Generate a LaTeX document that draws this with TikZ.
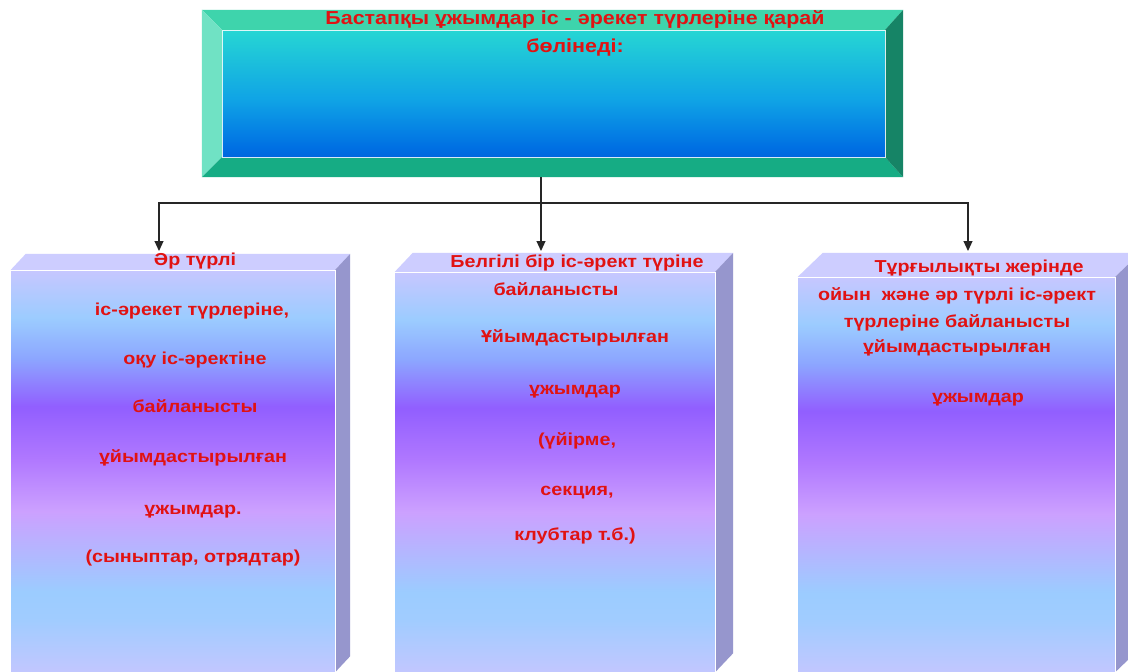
\documentclass[tikz,border=0pt]{standalone}
\usepackage{fontspec}
\newfontfamily\kzfont[FakeStretch=1.14]{Liberation Sans}
\usetikzlibrary{calc,arrows.meta}
\definecolor{textred}{RGB}{225,18,18}
\definecolor{bevtop}{RGB}{62,212,172}
\definecolor{bevleft}{RGB}{112,226,196}
\definecolor{bevbot}{RGB}{22,172,132}
\definecolor{bevright}{RGB}{22,132,102}
\definecolor{boxtop}{RGB}{205,205,255}
\definecolor{boxside}{RGB}{150,150,205}
% the shaded path is fitted to the 25bp--75bp band of the shading
\pgfdeclareverticalshading{innerface}{100bp}{rgb(0bp)=(0,0.40,0.87); rgb(25bp)=(0,0.40,0.87); rgb(29bp)=(0,0.44,0.89); rgb(47.5bp)=(0.06,0.64,0.90); rgb(75bp)=(0.15,0.84,0.83); rgb(100bp)=(0.15,0.84,0.83)}
\pgfdeclareverticalshading{boxfront}{100bp}{rgb(0bp)=(0.76,0.78,1); rgb(25bp)=(0.76,0.78,1); rgb(31.5bp)=(0.63,0.80,1); rgb(35bp)=(0.61,0.80,1); rgb(45bp)=(0.80,0.63,1); rgb(51.5bp)=(0.69,0.47,1); rgb(58bp)=(0.57,0.37,1); rgb(64bp)=(0.55,0.65,1); rgb(69bp)=(0.61,0.80,1); rgb(75bp)=(0.78,0.78,1); rgb(100bp)=(0.78,0.78,1)}
\tikzset{
  frontbox/.style={shading=boxfront, draw=none, inner sep=0pt},
  topfacebox/.style={fill=boxtop},
  sidefacebox/.style={fill=boxside},
  txt/.style={text=textred, font=\kzfont\bfseries\fontsize{17.3}{20}\selectfont, inner sep=0pt, anchor=mid},
  toptxt/.style={text=textred, font=\kzfont\bfseries\fontsize{18.8}{22}\selectfont, inner sep=0pt, anchor=mid},
  conn/.style={draw=black!85, line width=1.1pt},
  arr/.style={conn, -{Triangle[length=10pt,width=9pt]}}
}
\begin{document}
\begin{tikzpicture}[x=1pt,y=-1pt]
\useasboundingbox (0,0) rectangle (1128,672);
\clip (0,0) rectangle (1128,672);
\fill[white] (0,0) rectangle (1128,672);

% ---- top bevelled box ----
\node[minimum width=701pt, minimum height=167pt, inner sep=0pt] (topbox) at (552.5,93.5) {};
\coordinate (ti1) at (222,30);
\coordinate (ti2) at (885,157);
\fill[bevtop] (topbox.north west) -- (topbox.north east) -- (ti2 |- ti1) -- (ti1) -- cycle;
\fill[bevleft] (topbox.north west) -- (ti1) -- (ti1 |- ti2) -- (topbox.south west) -- cycle;
\fill[bevbot] (topbox.south west) -- (ti1 |- ti2) -- (ti2) -- (topbox.south east) -- cycle;
\fill[bevright] (topbox.north east) -- (ti2 |- ti1) -- (ti2) -- (topbox.south east) -- cycle;
\shade[shading=innerface] (ti1) rectangle (ti2);
\draw[white, line width=0.8pt, opacity=0.85] (ti1) rectangle (ti2);
\node[toptxt] (tt1) at (575,22) {Бастапқы ұжымдар іс - әрекет түрлеріне қарай};
\node[toptxt] (tt2) at (575,50) {бөлінеді:};

% ---- box 1 ----
\node[frontbox, minimum width=324pt, minimum height=402pt] (b1) at (173,471) {};
\fill[topfacebox] (b1.north west) -- ++(15,-16) -- ($(b1.north east)+(15,-16)$) -- (b1.north east) -- cycle;
\fill[sidefacebox] (b1.north east) -- ++(15,-16) -- ($(b1.south east)+(15,-16)$) -- (b1.south east) -- cycle;
\draw[white, line width=0.6pt] (b1.north west) -- (b1.north east) -- (b1.south east);

% ---- box 2 ----
\node[frontbox, minimum width=320pt, minimum height=400pt] (b2) at (555,472) {};
\fill[topfacebox] (b2.north west) -- ++(18,-19) -- ($(b2.north east)+(18,-19)$) -- (b2.north east) -- cycle;
\fill[sidefacebox] (b2.north east) -- ++(18,-19) -- ($(b2.south east)+(18,-19)$) -- (b2.south east) -- cycle;
\draw[white, line width=0.6pt] (b2.north west) -- (b2.north east) -- (b2.south east);

% ---- box 3 ----
\node[frontbox, minimum width=317pt, minimum height=395pt] (b3) at (956.5,474.5) {};
\fill[topfacebox] (b3.north west) -- ++(25,-24) -- ($(b3.north east)+(25,-24)$) -- (b3.north east) -- cycle;
\fill[sidefacebox] (b3.north east) -- ++(25,-24) -- ($(b3.south east)+(25,-24)$) -- (b3.south east) -- cycle;
\draw[white, line width=0.6pt] (b3.north west) -- (b3.north east) -- (b3.south east);

% ---- connectors ----
\coordinate (jn) at (541,203);
\coordinate (a1) at (159,251);
\coordinate (a2) at (541,251);
\coordinate (a3) at (968,251);
\draw[conn] (topbox.south -| jn) -- (jn);
\draw[arr] (jn) -| (a1);
\draw[arr] (jn) -- (a2);
\draw[arr] (jn) -| (a3);

% ---- texts box 1 ----
\node[txt] (l11) at (195,263) {Әр түрлі};
\node[txt] (l12) at (192,313) {іс-әрекет түрлеріне,};
\node[txt] (l13) at (195,362) {оқу іс-әректіне};
\node[txt] (l14) at (195,410) {байланысты};
\node[txt] (l15) at (193,460) {ұйымдастырылған};
\node[txt] (l16) at (193,512) {ұжымдар.};
\node[txt] (l17) at (193,560) {(сыныптар, отрядтар)};

% ---- texts box 2 ----
\node[txt] (l21) at (577,265) {Белгілі бір іс-әрект түріне};
\node[txt] (l22) at (556,293) {байланысты};
\node[txt] (l23) at (575,340) {Ұйымдастырылған};
\node[txt] (l24) at (575,392) {ұжымдар};
\node[txt] (l25) at (577,443) {(үйірме,};
\node[txt] (l26) at (577,493) {секция,};
\node[txt] (l27) at (575,538) {клубтар т.б.)};

% ---- texts box 3 ----
\node[txt] (l31) at (979,270) {Тұрғылықты жерінде};
\node[txt] (l32) at (957,298) {ойын\ \ және әр түрлі іс-әрект};
\node[txt] (l33) at (957,325) {түрлеріне байланысты};
\node[txt] (l34) at (957,350) {ұйымдастырылған};
\node[txt] (l35) at (978,400) {ұжымдар};
\end{tikzpicture}
\end{document}
